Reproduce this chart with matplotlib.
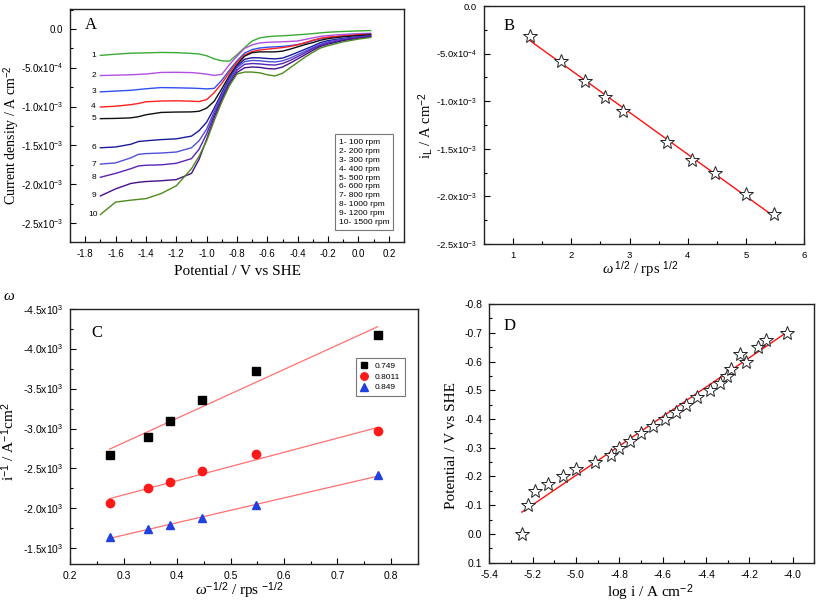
import numpy as np
import matplotlib.pyplot as plt
from matplotlib.lines import Line2D
from matplotlib.ticker import MultipleLocator, FuncFormatter

plt.rcParams['font.family'] = ['Liberation Sans', 'DejaVu Sans']
plt.rcParams['mathtext.fontset'] = 'custom'
plt.rcParams['mathtext.rm'] = 'Liberation Sans'
plt.rcParams['mathtext.it'] = 'Liberation Serif:italic'
plt.rcParams['axes.unicode_minus'] = False

# ---------------- Panel A : polarisation curves (current in 1e-4 A cm-2)
pot = [-1.70, -1.60, -1.50, -1.45, -1.40, -1.30, -1.20, -1.10, -1.05, -1.00,
       -0.95, -0.90, -0.85, -0.80, -0.75, -0.70, -0.65, -0.60, -0.55, -0.50,
       -0.45, -0.40, -0.35, -0.30, -0.25, -0.20, -0.10, 0.00, 0.08]
c1 = [-3.40, -3.25, -3.12, -3.10, -3.08, -3.02, -3.05, -3.15, -3.22, -3.45,
      -3.85, -4.10, -4.15, -3.30, -2.40, -1.55, -1.15, -1.00, -0.92, -0.88,
      -0.82, -0.75, -0.68, -0.60, -0.50, -0.42, -0.32, -0.25, -0.20]
c2 = [-6.00, -5.95, -5.90, -5.85, -5.80, -5.60, -5.58, -5.62, -5.70, -5.82,
      -5.98, -5.85, -4.60, -3.50, -2.50, -2.05, -1.80, -1.72, -1.68, -1.65,
      -1.60, -1.55, -1.35, -1.15, -0.95, -0.85, -0.70, -0.60, -0.55]
c3 = [-8.10, -8.00, -7.90, -7.80, -7.70, -7.55, -7.58, -7.62, -7.66, -7.72,
      -7.65, -6.60, -5.30, -4.10, -3.10, -2.65, -2.45, -2.35, -2.30, -2.25,
      -2.15, -2.00, -1.80, -1.50, -1.25, -1.10, -0.90, -0.75, -0.65]
c4 = [-10.05, -9.95, -9.75, -9.60, -9.38, -9.28, -9.25, -9.30, -9.35, -9.10,
      -8.20, -7.00, -5.60, -4.30, -3.35, -2.90, -2.70, -2.60, -2.50, -2.40,
      -2.25, -2.05, -1.75, -1.45, -1.20, -1.05, -0.90, -0.75, -0.70]
c5 = [-11.55, -11.52, -11.45, -11.30, -11.05, -10.75, -10.70, -10.68, -10.60, -10.20,
      -9.30, -7.70, -6.00, -4.60, -3.50, -3.05, -2.95, -2.95, -2.95, -2.85,
      -2.60, -2.30, -2.00, -1.75, -1.45, -1.25, -1.00, -0.85, -0.75]
c6 = [-15.30, -15.20, -14.85, -14.50, -14.40, -14.25, -14.15, -13.80, -13.10, -12.00,
      -10.20, -8.20, -6.30, -4.80, -3.90, -3.70, -3.72, -3.80, -3.85, -3.75,
      -3.40, -3.00, -2.60, -2.20, -1.75, -1.50, -1.20, -1.00, -0.85]
c7 = [-17.40, -17.25, -16.60, -16.15, -16.05, -15.98, -15.85, -15.30, -14.40, -12.90,
      -10.60, -8.50, -6.50, -5.00, -4.20, -4.05, -4.10, -4.20, -4.25, -4.10,
      -3.75, -3.30, -2.85, -2.40, -1.95, -1.65, -1.30, -1.05, -0.90]
c8 = [-19.10, -18.60, -18.00, -17.65, -17.55, -17.50, -17.30, -16.70, -15.50, -13.50,
      -11.00, -8.80, -6.80, -5.30, -4.55, -4.45, -4.50, -4.60, -4.65, -4.45,
      -4.05, -3.55, -3.05, -2.55, -2.10, -1.80, -1.40, -1.10, -0.95]
c9 = [-21.50, -20.60, -19.90, -19.75, -19.65, -19.55, -19.40, -18.60, -16.80, -14.20,
      -11.40, -9.10, -7.10, -5.60, -5.00, -4.90, -4.95, -5.10, -5.15, -4.90,
      -4.40, -3.85, -3.30, -2.75, -2.25, -1.95, -1.50, -1.20, -1.00]
c10 = [-23.90, -22.30, -22.05, -21.95, -21.85, -21.20, -20.20, -18.00, -16.40, -14.40,
       -11.80, -9.40, -7.30, -5.80, -5.55, -5.55, -5.65, -5.90, -6.05, -5.70,
       -5.00, -4.30, -3.60, -3.00, -2.45, -2.15, -1.65, -1.30, -1.10]
curves_a = [c1, c2, c3, c4, c5, c6, c7, c8, c9, c10]
colors_a = ['#3aaa35', '#b050e0', '#3050f0', '#ff2020', '#101010',
            '#1a1a9a', '#5050d8', '#5a22b8', '#46108c', '#4e8a1e']
rpm_labels = ['1- 100 rpm', '2- 200 rpm', '3- 300 rpm', '4- 400 rpm', '5- 500 rpm',
              '6- 600 rpm', '7- 800 rpm', '8- 1000 rpm', '9- 1200 rpm', '10- 1500 rpm']

# ---------------- Panel B : Levich plot
b_x = [1.29, 1.83, 2.24, 2.58, 2.89, 3.65, 4.08, 4.47, 5.00, 5.48]
b_y = [-3.15e-4, -5.78e-4, -7.9e-4, -9.6e-4, -1.1e-3, -1.43e-3, -1.62e-3,
       -1.75e-3, -1.97e-3, -2.18e-3]
b_fit_x = [1.29, 5.48]
b_fit_y = [-3.64e-4, -2.21e-3]

# ---------------- Panel C : Koutecky-Levich
c_x = [0.274, 0.346, 0.387, 0.447, 0.548, 0.775]
c_749 = [-2670, -2900, -3093, -3360, -3723, -4178]
c_8011 = [-2065, -2248, -2324, -2462, -2679, -2963]
c_849 = [-1634, -1739, -1789, -1881, -2040, -2411]

# ---------------- Panel D : Tafel
d_x = [-5.25, -5.22, -5.19, -5.13, -5.06, -5.00, -4.91, -4.84, -4.80, -4.75,
       -4.70, -4.645, -4.59, -4.54, -4.49, -4.44, -4.38, -4.335, -4.305, -4.285,
       -4.245, -4.215, -4.16, -4.125, -4.025]
d_y = [0.0, -0.10, -0.15, -0.175, -0.20, -0.225, -0.25, -0.275, -0.30, -0.325,
       -0.35, -0.375, -0.40, -0.425, -0.45, -0.475, -0.50, -0.525, -0.55, -0.575,
       -0.625, -0.60, -0.65, -0.675, -0.70]
d_fit_x = [-5.25, -4.03]
d_fit_y = [-0.076, -0.70]


def sci_label(v, pos=None):
    if abs(v) < 1e-12:
        return '0.0'
    e = int(np.floor(np.log10(abs(v)) + 1e-9))
    m = v / 10 ** e
    return '%.1fx10$^{%d}$' % (m, e)


serif = 'Liberation Serif'


def style(ax, xmaj, xmin, ymaj, ymin, size=7.5):
    ax.xaxis.set_major_locator(MultipleLocator(xmaj))
    ax.xaxis.set_minor_locator(MultipleLocator(xmin))
    ax.yaxis.set_major_locator(MultipleLocator(ymaj))
    ax.yaxis.set_minor_locator(MultipleLocator(ymin))
    ax.tick_params(which='both', direction='in', top=False, right=False,
                   labelsize=size, pad=5)
    ax.tick_params(which='major', length=4, width=0.8)
    ax.tick_params(which='minor', length=2.5, width=0.8)
    for s in ax.spines.values():
        s.set_linewidth(1.0)
        s.set_color('#222222')


def labels(ax, xl, yl, xpos, ypos, size=11):
    ax.set_xlabel(xl, fontsize=size, family=serif)
    ax.set_ylabel(yl, fontsize=size, family=serif)
    ax.xaxis.set_label_coords(*xpos)
    ax.yaxis.set_label_coords(*ypos)
    ax.xaxis.label.set_verticalalignment('center')
    ax.yaxis.label.set_verticalalignment('center')


fig = plt.figure(figsize=(8.17, 6.09), dpi=100)

# ----- A
axA = fig.add_axes([0.0857, 0.6031, 0.4088, 0.3821])
pot_arr = np.array(pot)
for i, (cy, col) in enumerate(zip(curves_a, colors_a)):
    yy = np.array(cy) * 1e-4
    axA.plot(pot_arr, yy, color=col, lw=1.0)
    axA.text(-1.745, yy[0], str(i + 1), fontsize=6, ha='center', va='center')
axA.set_xlim(-1.9, 0.3)
axA.set_ylim(-2.74e-3, 2.57e-4)
style(axA, 0.2, 0.1, 5e-4, 2.5e-4, size=7.0)
axA.yaxis.set_major_formatter(FuncFormatter(sci_label))
axA.xaxis.set_major_formatter(FuncFormatter(lambda v, p: '%.1f' % v if abs(v) > 1e-9 else '0.0'))
labels(axA, 'Potential / V vs SHE', 'Current density / A cm$^{-2}$',
       (0.5, -0.129), (-0.174, 0.46), size=10)
axA.xaxis.label.set_fontsize(11)
axA.text(0.045, 0.915, 'A', transform=axA.transAxes, fontsize=12, family=serif)
handles = [Line2D([], [], ls='none') for _ in rpm_labels]
legA = axA.legend(handles, rpm_labels, loc='upper left', bbox_to_anchor=(0.793, 0.4615),
                  handlelength=0, handletextpad=0, fontsize=6.0, frameon=True,
                  fancybox=False, borderpad=0.45, labelspacing=0.13, borderaxespad=0)
legA.get_frame().set_edgecolor('#555555')
legA.get_frame().set_linewidth(0.8)

# ----- B
axB = fig.add_axes([0.5924, 0.5993, 0.3920, 0.3908])
axB.plot(b_fit_x, b_fit_y, color='#ff1010', lw=1.0)
axB.plot(b_x, b_y, ls='none', marker='*', ms=10, mfc='white', mec='#222222', mew=0.7)
axB.set_xlim(0.5, 6.0)
axB.set_ylim(-2.5e-3, 0)
style(axB, 1, 0.5, 5e-4, 2.5e-4, size=6.8)
axB.yaxis.set_major_formatter(FuncFormatter(sci_label))
labels(axB, r'$\omega$$^{\ 1/2}$ / rps $^{1/2}$', 'i$_{\\mathrm{L}}$ / A cm$^{-2}$',
       (0.487, -0.108), (-0.182, 0.5), size=10.5)
axB.text(0.06, 0.9, 'B', transform=axB.transAxes, fontsize=12, family=serif)

# ----- C
axC = fig.add_axes([0.0857, 0.0739, 0.4256, 0.4187])
cx = np.array(c_x)
series_c = [(c_749, 's', '#000000', '0.749', 5.5),
            (c_8011, 'o', '#ff1a1a', '0.8011', 6),
            (c_849, '^', '#2040e0', '0.849', 6)]
for yv, mk, col, lab, ms in series_c:
    k, b = np.polyfit(cx, yv, 1)
    axC.plot([cx[0], cx[-1]], [k * cx[0] + b, k * cx[-1] + b], color='#ff7070', lw=0.9)
    axC.plot(cx, yv, ls='none', marker=mk, color=col, ms=ms, label=lab)
axC.set_xlim(0.2, 0.85)
axC.set_ylim(-1300, -4500)
style(axC, 0.1, 0.05, 500, 250)
axC.yaxis.set_major_formatter(FuncFormatter(sci_label))
labels(axC, r'$\omega$$^{-1/2}$ / rps $^{-1/2}$', 'i$^{-1}$ / A$^{-1}$cm$^{2}$',
       (0.489, -0.105), (-0.178, 0.48))
axC.text(0.06, 0.89, 'C', transform=axC.transAxes, fontsize=12, family=serif)
legC = axC.legend(loc='upper left', bbox_to_anchor=(0.822, 0.808), fontsize=6,
                  frameon=True, fancybox=False, handlelength=1.0, handletextpad=0.8,
                  borderpad=0.5, labelspacing=0.35, borderaxespad=0, markerscale=0.9)
legC.get_frame().set_edgecolor('#555555')
legC.get_frame().set_linewidth(0.8)
fig.text(0.004, 1 - 300 / 609, r'$\omega$', fontsize=11)

# ----- D
axD = fig.add_axes([0.5989, 0.0760, 0.3978, 0.4248])
axD.plot(d_fit_x, d_fit_y, color='#ff1010', lw=1.0)
axD.plot(d_x, d_y, ls='none', marker='*', ms=10, mfc='white', mec='#222222', mew=0.7)
axD.set_xlim(-5.4, -3.9)
axD.set_ylim(0.1, -0.8)
style(axD, 0.2, 0.1, 0.1, 0.05)
axD.xaxis.set_major_formatter(FuncFormatter(lambda v, p: '%.1f' % v))
axD.yaxis.set_major_formatter(FuncFormatter(lambda v, p: '%.1f' % (0.0 if abs(v) < 1e-9 else v)))
labels(axD, 'log i / A cm$^{-2}$', 'Potential / V vs SHE',
       (0.494, -0.117), (-0.115, 0.455))
axD.text(0.045, 0.9, 'D', transform=axD.transAxes, fontsize=12, family=serif)

fig.savefig('out.png', dpi=100)
